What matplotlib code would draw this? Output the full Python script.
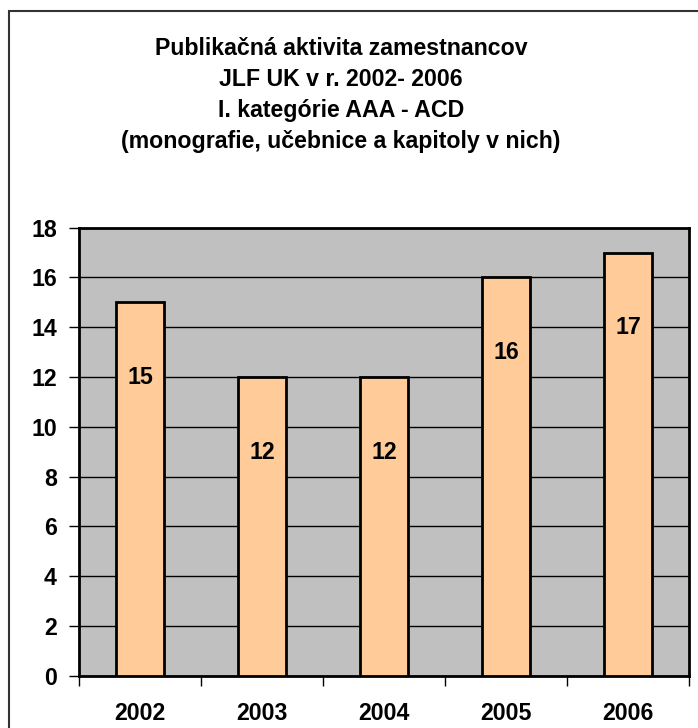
import matplotlib
matplotlib.use("Agg")
import matplotlib.pyplot as plt
from matplotlib.patches import Rectangle

years = ["2002", "2003", "2004", "2005", "2006"]
counts = [15, 12, 12, 16, 17]
y_ticks = [0, 2, 4, 6, 8, 10, 12, 14, 16, 18]
title_lines = [
    "Publikačná aktivita zamestnancov",
    "JLF UK v r. 2002- 2006",
    "I. kategórie AAA - ACD",
    "(monografie, učebnice a kapitoly v nich)",
]

plt.rcParams['font.family'] = ['Liberation Sans', 'DejaVu Sans']
plt.rcParams['font.weight'] = 'bold'

FS = 16.7
W, H = 698, 728
fig = plt.figure(figsize=(W / 100, H / 100), dpi=100)

# outer chart border (only top/left visible in the crop)
fig.patches.append(Rectangle((9 / W, -0.1), 2, (H - 10.7) / H + 0.1,
                             transform=fig.transFigure, fill=False,
                             edgecolor='#333333', linewidth=1.5))

ax = fig.add_axes([79 / W, 52.3 / H, 610 / W, 448 / H])
ax.set_facecolor('#C0C0C0')

x = list(range(len(years)))
ax.bar(x, counts, width=0.4, color='#FFCC99', edgecolor='black',
       linewidth=2, zorder=3)

for xi, v in zip(x, counts):
    ax.annotate(str(v), (xi, v), xytext=(0, -75), textcoords='offset pixels',
                ha='center', va='center', fontsize=FS, fontweight='bold',
                zorder=4)

ax.set_xlim(-0.5, len(years) - 0.5)
ax.set_ylim(0, 18)
ax.set_yticks(y_ticks)
ax.set_yticklabels([str(t) for t in y_ticks], fontsize=FS, fontweight='bold')
ax.yaxis.grid(True, color='black', linewidth=1)
ax.set_axisbelow(True)

ax.set_xticks(x)
ax.set_xticklabels(years, fontsize=FS, fontweight='bold')
ax.set_xticks([i - 0.5 for i in range(len(years) + 1)], minor=True)
ax.tick_params(axis='x', which='major', length=0, pad=19)
ax.tick_params(axis='x', which='minor', length=7, width=1, direction='out')
ax.tick_params(axis='y', length=7, width=1, pad=9, direction='out')

for s in ax.spines.values():
    s.set_linewidth(2)
    s.set_color('black')

fig.text(341 / W, 1 - 95 / H, "\n".join(title_lines), ha='center', va='center',
         fontsize=FS, fontweight='bold', linespacing=1.43)

fig.savefig("out.png", dpi=100)
